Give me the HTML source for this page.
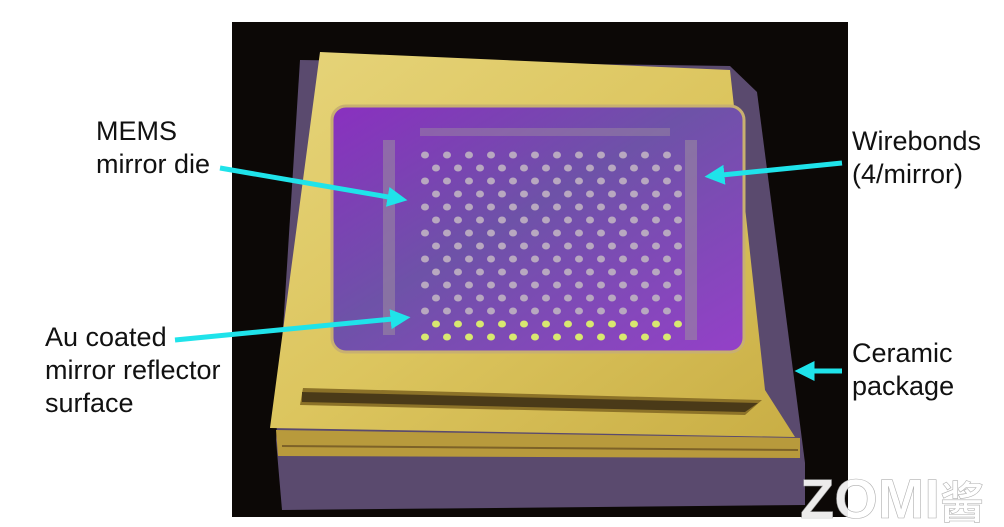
<!DOCTYPE html>
<html><head><meta charset="utf-8"><style>
html,body{margin:0;padding:0;background:#fff;width:1004px;height:527px;overflow:hidden}
svg{display:block}
text{font-family:"Liberation Sans","Noto Sans CJK SC",sans-serif}
</style></head><body>
<svg width="1004" height="527" viewBox="0 0 1004 527">
<defs>
<linearGradient id="gold" x1="0" y1="0" x2="1" y2="1"><stop offset="0" stop-color="#e6d47a"/><stop offset="0.5" stop-color="#dcc55e"/><stop offset="1" stop-color="#c9ae45"/></linearGradient>
<linearGradient id="win" x1="0" y1="0" x2="1" y2="1"><stop offset="0" stop-color="#8a30c0"/><stop offset="0.45" stop-color="#6e52a8"/><stop offset="1" stop-color="#9440c8"/></linearGradient>
<marker id="ah" markerWidth="4" markerHeight="4" refX="2.5" refY="2" orient="auto" markerUnits="strokeWidth"><path d="M0,0 L4,2 L0,4 z" fill="#1fe3ea"/></marker>
</defs>
<rect x="232" y="22" width="616" height="495" fill="#0c0806"/>
<polygon points="300,60 730,66 757,92 805,463 805,505 282,510 276,440" fill="#5a4a6e"/>
<polygon points="276,430 800,438 800,458 278,456" fill="#b89a3c"/>
<line x1="282" y1="446" x2="798" y2="450" stroke="#7d6228" stroke-width="2"/>
<polygon points="320,52 730,70 765,390 795,437 270,428" fill="url(#gold)"/>
<polygon points="303,388 762,400 745,415 300,405" fill="#8c7228"/>
<polygon points="302,392 758,403 745,412 302,402" fill="#4a3a18"/>
<rect x="332" y="106" width="412" height="246" rx="14" fill="url(#win)" stroke="#c8b070" stroke-width="3"/>
<rect x="383" y="140" width="12" height="195" fill="#9a88a0" opacity="0.6"/>
<rect x="685" y="140" width="12" height="200" fill="#9a88a0" opacity="0.6"/>
<rect x="420" y="128" width="250" height="8" fill="#9a88a0" opacity="0.5"/>
<g id="dots"></g>
<g stroke="#1fe3ea" stroke-width="5" fill="none">
<line x1="220" y1="168" x2="400" y2="199" marker-end="url(#ah)"/>
<line x1="175" y1="340" x2="403" y2="318" marker-end="url(#ah)"/>
<line x1="842" y1="163" x2="712" y2="176" marker-end="url(#ah)"/>
<line x1="842" y1="371" x2="802" y2="371" marker-end="url(#ah)"/>
</g>
<g font-size="27" fill="#111">
<text x="96" y="140">MEMS</text>
<text x="96" y="173">mirror die</text>
<text x="45" y="346">Au coated</text>
<text x="45" y="379">mirror reflector</text>
<text x="45" y="412">surface</text>
<text x="852" y="150">Wirebonds</text>
<text x="852" y="183">(4/mirror)</text>
<text x="852" y="362">Ceramic</text>
<text x="852" y="395">package</text>
</g>
<text x="800" y="518" font-size="56" font-weight="bold" fill="#fff" opacity="0.92" stroke="#aaa" stroke-width="0.6">ZOMI<tspan font-size="44">酱</tspan></text>
</svg>
<script>
const g=document.getElementById('dots');
for(let r=0;r<15;r++){for(let c=0;c<12;c++){
 const x=425+c*22+(r%2?11:0), y=155+r*13;
 const d=document.createElementNS('http://www.w3.org/2000/svg','ellipse');
 
 
 d.setAttribute('cx',x);d.setAttribute('cy',y);d.setAttribute('rx',4);d.setAttribute('ry',3.5);
 d.setAttribute('fill',r>12?'#d8e870':'#b8a8c0');
 g.appendChild(d);
}}
</script>
</body></html>
